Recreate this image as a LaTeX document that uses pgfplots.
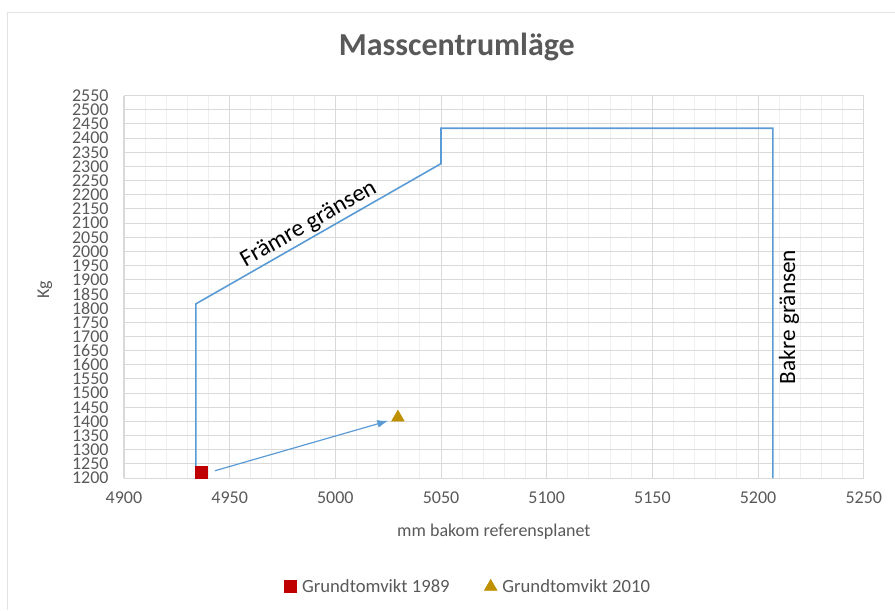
\documentclass[border=0pt]{standalone}
\usepackage{fontspec}
\setmainfont{Carlito}
\usepackage{pgfplots}
\pgfplotsset{compat=1.18}
\usetikzlibrary{arrows.meta}
\definecolor{lineblue}{HTML}{5B9BD5}
\definecolor{mred}{HTML}{C00000}
\definecolor{mgold}{HTML}{BF9000}
\definecolor{txtgray}{HTML}{595959}
\definecolor{gridmaj}{HTML}{D9D9D9}
\definecolor{gridmin}{HTML}{EFEFEF}
\definecolor{chartborder}{HTML}{E3E3E3}

\begin{document}
\begin{tikzpicture}[x=1pt,y=1pt]
% page = 895 x 610 px, 1 px = 0.75 pt
\path (0,0) rectangle (671.25,457.5);
\draw[chartborder] (5.25,0) -- (5.25,448.5) -- (671.25,448.5);
\node[font=\fontsize{24}{28}\selectfont\bfseries, text=txtgray] at (342.75,422.25) {Masscentrumläge};
\begin{axis}[at={(93pt,98.8pt)}, anchor=south west,
    scale only axis, width=555pt, height=286.95pt,
    xmin=4900, xmax=5250, ymin=1200, ymax=2550,
    xtick distance=50, ytick distance=50, minor x tick num=4,
    scaled ticks=false,
    /pgf/number format/1000 sep={},
    /pgf/number format/assume math mode=true,
    grid=both,
    major grid style={gridmaj, line width=0.75pt},
    minor grid style={gridmin, line width=0.75pt},
    axis line style={gridmaj},
    major tick length=0pt, minor tick length=0pt,
    tick label style={font=\fontsize{13.5}{13.5}\selectfont, text=txtgray},
    yticklabel style={xshift=-8pt},
    xticklabel style={yshift=-7pt},
    xlabel={mm bakom referensplanet},
    xlabel style={at={(0.5,-0.14)}, anchor=center,
        font=\fontsize{13.5}{14}\selectfont, text=txtgray},
    ylabel={Kg},
    ylabel style={at={(-0.107,0.492)}, anchor=center, rotate=0,
        font=\fontsize{13.5}{14}\selectfont, text=txtgray},
    legend style={at={(0.466,-0.284)}, anchor=center, draw=none, fill=none,
        font=\fontsize{14}{14}\selectfont, text=txtgray,
        /tikz/every odd column/.append style={column sep=2pt},
        /tikz/every even column/.append style={column sep=24pt}},
    legend columns=2,
  ]
  % Främre och bakre gränsen
  \addplot[lineblue, line width=1.2pt, forget plot] coordinates {
    (4934,1210) (4934,1815) (5050,2310) (5050,2435) (5207,2435) (5207,1200)};
  % pil 1989 -> 2010
  \addplot[lineblue, line width=0.9pt, forget plot,
    -{Latex[length=8pt,width=6pt]}] coordinates {(4943,1226) (5024.9,1402)};
  \addplot[only marks, mark=square*, mark size=4.5pt, color=mred]
    coordinates {(4936.4,1219)};
  \addlegendentry{Grundtomvikt 1989}
  \addplot[only marks, mark=triangle*, mark size=5.5pt, color=mgold]
    coordinates {(5029.6,1414)};
  \addlegendentry{Grundtomvikt 2010}
  \node[rotate=29.7, anchor=south, inner sep=2pt, font=\fontsize{18}{18}\selectfont]
    at (axis cs:4990.5,2056) {Främre gränsen};
  \node[rotate=90, font=\fontsize{17.5}{18}\selectfont] at (axis cs:5214.6,1769) {Bakre gränsen};
\end{axis}
\end{tikzpicture}
\end{document}
